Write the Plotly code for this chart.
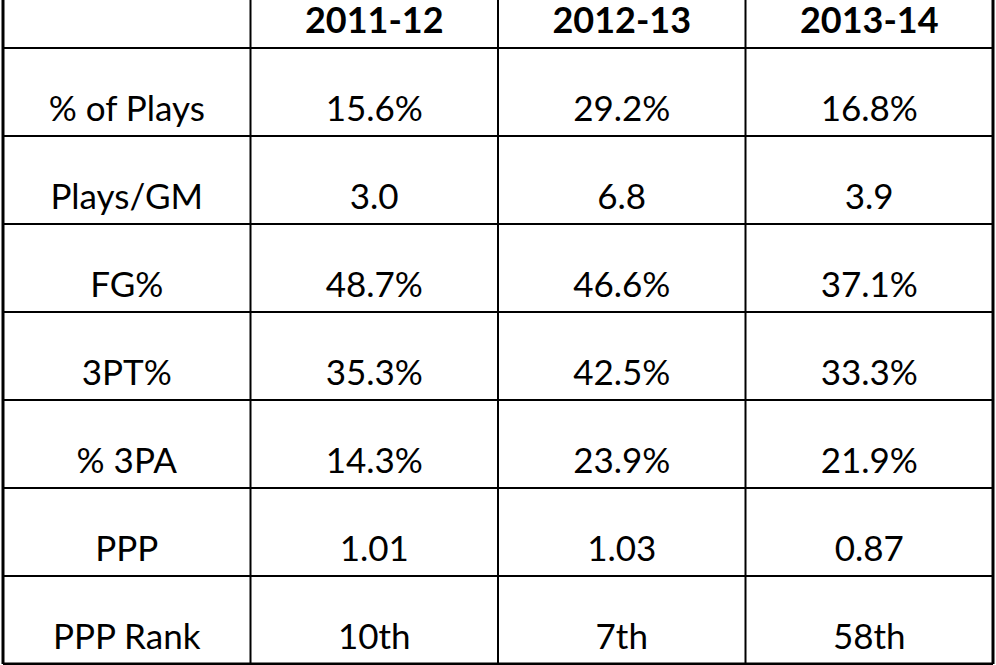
import plotly.graph_objects as go

# table contents
seasons = ["2011-12", "2012-13", "2013-14"]
stats = ["% of Plays", "Plays/GM", "FG%", "3PT%", "% 3PA", "PPP", "PPP Rank"]
s2011 = ["15.6%", "3.0", "48.7%", "35.3%", "14.3%", "1.01", "10th"]
s2012 = ["29.2%", "6.8", "46.6%", "42.5%", "23.9%", "1.03", "7th"]
s2013 = ["16.8%", "3.9", "37.1%", "33.3%", "21.9%", "0.87", "58th"]

# grid geometry (in plot units = pixels)
W, H = 996, 665
LEFT = 3
COL_W = 247.5
HEADER_H = 48
ROW_H = 88
n_cols = 1 + len(seasons)
n_rows = len(stats)
bottom = HEADER_H + n_rows * ROW_H

def col_center(i):
    return LEFT + (i + 0.5) * COL_W

def row_text_y(k):
    # text sits near the bottom of each body row
    return HEADER_H + (k + 1) * ROW_H - 24

fig = go.Figure()

# header text
fig.add_trace(go.Scatter(
    x=[col_center(i + 1) for i in range(len(seasons))],
    y=[24] * len(seasons),
    text=seasons,
    mode="text",
    textposition="middle center",
    textfont=dict(family="Lato", size=36, color="black", weight="bold"),
    hoverinfo="skip",
))

# body text, one trace per column
columns = [stats, s2011, s2012, s2013]
for i, col in enumerate(columns):
    fig.add_trace(go.Scatter(
        x=[col_center(i)] * len(col),
        y=[row_text_y(k) for k in range(len(col))],
        text=col,
        mode="text",
        textposition="middle center",
        textfont=dict(family="Lato", size=35, color="black"),
        hoverinfo="skip",
    ))

# vertical grid lines
for i in range(n_cols + 1):
    x = LEFT + i * COL_W
    outer = i in (0, n_cols)
    fig.add_shape(type="line", xref="x", yref="y", x0=x, x1=x, y0=0, y1=bottom,
                  line=dict(color="black", width=3 if outer else 2))

# horizontal grid lines
for k in range(n_rows + 1):
    y = HEADER_H + k * ROW_H
    fig.add_shape(type="line", xref="x", yref="y", x0=LEFT, x1=LEFT + n_cols * COL_W,
                  y0=y, y1=y, line=dict(color="black", width=3 if k == n_rows else 2))

fig.update_layout(
    width=W, height=H,
    margin=dict(l=0, r=0, t=0, b=0),
    showlegend=False,
    plot_bgcolor="white",
    paper_bgcolor="white",
    xaxis=dict(range=[0, W], visible=False, fixedrange=True),
    yaxis=dict(range=[H, 0], visible=False, fixedrange=True),
)

# drop the page's default body margin so the table fills the window
fig.write_html("out.html", config={"displayModeBar": False},
               post_script="document.body.style.margin='0';document.body.style.overflow='hidden';")
